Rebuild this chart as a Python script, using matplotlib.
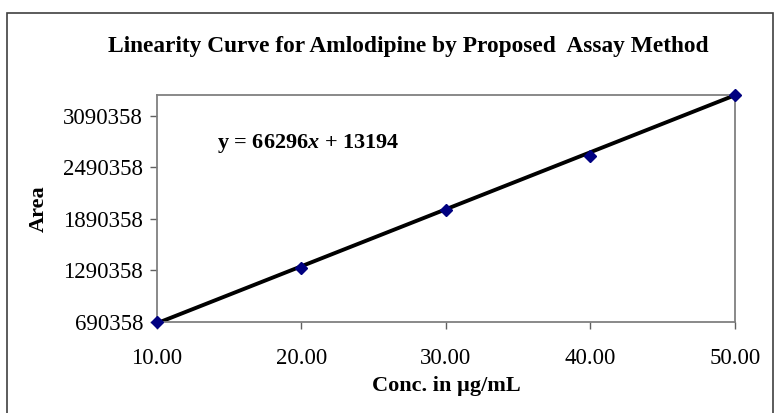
import matplotlib

matplotlib.use("Agg")
import matplotlib.pyplot as plt
from matplotlib.patches import Rectangle

plt.rcParams["font.family"] = ["Liberation Serif", "DejaVu Serif"]
plt.rcParams["mathtext.fontset"] = "custom"
plt.rcParams["mathtext.rm"] = "Liberation Serif:bold"
plt.rcParams["mathtext.it"] = "Liberation Serif:bold:italic"

# calibration standards
conc = [10, 20, 30, 40, 50]  # µg/mL
area = [690358, 1322000, 1998000, 2626000, 3330000]

# least-squares line reported on the chart
slope = 66296
intercept = 13194

y_ticks = [690358, 1290358, 1890358, 2490358, 3090358]
x_ticks = [10, 20, 30, 40, 50]

fig = plt.figure(figsize=(7.74, 4.13), dpi=100)
fig.patches.append(Rectangle((0.009, -0.01), 0.99, 0.978, transform=fig.transFigure,
                             fill=False, edgecolor="#404040", linewidth=1.2))
ax = fig.add_axes([0.2028, 0.2203, 0.7468, 0.5497])

fit_x = [conc[0], conc[-1]]
fit_y = [slope * x + intercept for x in fit_x]
ax.plot(fit_x, fit_y, color="black", linewidth=2.8, zorder=2)
ax.plot(conc, area, linestyle="none", marker="D", markersize=6,
        color="#000080", zorder=3, clip_on=False)

ax.set_xlim(10, 50)
ax.set_ylim(690358, 3330358)
ax.set_xticks(x_ticks)
ax.set_xticklabels([f"{x:.2f}" for x in x_ticks])
ax.set_yticks(y_ticks)
ax.set_yticklabels([str(y) for y in y_ticks])
ax.tick_params(labelsize=16.5, length=5, width=1, color="#606060", pad=5)
ax.tick_params(axis="x", pad=14)
for side in ("left", "bottom", "right", "top"):
    ax.spines[side].set_color("#808080")
    ax.spines[side].set_linewidth(1.3)

ax.set_xlabel("Conc. in µg/mL", fontsize=16, fontweight="bold", labelpad=5)
ax.set_ylabel("Area", fontsize=16, fontweight="bold", labelpad=10)
fig.text(0.527, 0.888, "Linearity Curve for Amlodipine by Proposed  Assay Method",
         ha="center", va="center", fontsize=16.8, fontweight="bold")
ax.text(14.15, 2767000, r"y = 66296$\it{x}$ + 13194", fontsize=16, fontweight="bold",
        va="center", ha="left")

fig.savefig("out.png", dpi=100)
